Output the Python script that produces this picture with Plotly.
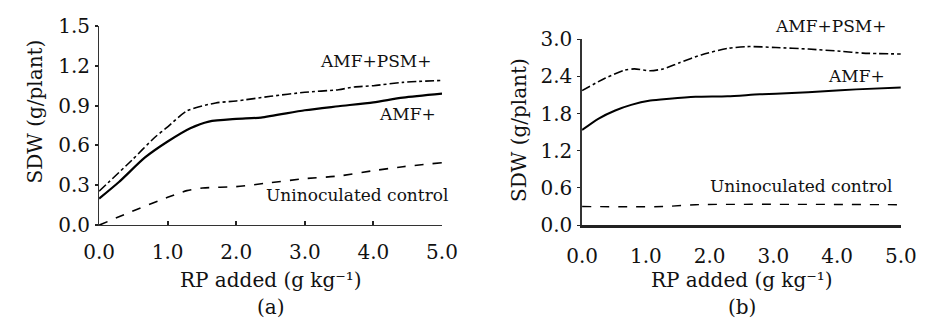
import plotly.graph_objects as go

# Panel (a)
a_x_psm = [0, 0.48, 0.81, 1.0, 1.28, 1.7, 2.0, 2.5, 3.0, 3.49, 3.72, 4.0, 4.43, 5.0]
a_y_psm = [0.256, 0.49, 0.66, 0.74, 0.86, 0.92, 0.935, 0.97, 1.0, 1.02, 1.04, 1.05, 1.075, 1.09]
a_x_amf = [0, 0.29, 0.67, 1.0, 1.33, 1.6, 2.0, 2.36, 3.0, 3.49, 4.0, 4.43, 5.0]
a_y_amf = [0.2, 0.325, 0.51, 0.63, 0.73, 0.78, 0.80, 0.81, 0.865, 0.895, 0.925, 0.96, 0.99]
a_x_ctl = [0, 0.43, 1.0, 1.28, 1.51, 2.0, 2.5, 3.0, 3.49, 4.0, 4.43, 5.0]
a_y_ctl = [0.0, 0.093, 0.21, 0.26, 0.28, 0.29, 0.32, 0.35, 0.37, 0.41, 0.44, 0.47]

# Panel (b)
b_x_psm = [0, 0.36, 0.67, 0.82, 1.07, 1.27, 1.53, 1.88, 2.28, 2.59, 3.04, 3.55, 4.05, 4.4, 5.0]
b_y_psm = [2.17, 2.37, 2.50, 2.52, 2.49, 2.52, 2.62, 2.75, 2.85, 2.88, 2.865, 2.84, 2.805, 2.775, 2.76]
b_x_amf = [0, 0.26, 0.52, 0.77, 1.07, 1.37, 1.78, 2.28, 2.79, 3.29, 3.8, 4.3, 5.0]
b_y_amf = [1.535, 1.72, 1.85, 1.94, 2.01, 2.04, 2.07, 2.08, 2.11, 2.13, 2.16, 2.19, 2.22]
b_x_ctl = [0, 1.27, 1.78, 5.0]
b_y_ctl = [0.30, 0.30, 0.33, 0.33]

x_ticks = [0, 1, 2, 3, 4, 5]
x_ticktext = ["0.0", "1.0", "2.0", "3.0", "4.0", "5.0"]
a_y_ticks = [0, 0.3, 0.6, 0.9, 1.2, 1.5]
b_y_ticks = [0, 0.6, 1.2, 1.8, 2.4, 3.0]

FONT = "DejaVu Serif"
FS = 20
FS_LBL = 17
COL = "#111"

fig = go.Figure()

def add(x, y, dash, width, xa, ya):
    fig.add_trace(go.Scatter(x=x, y=y, mode="lines", xaxis=xa, yaxis=ya,
                             line=dict(color="black", dash=dash, width=width, shape="spline", smoothing=0.7),
                             showlegend=False, hoverinfo="skip"))

add(a_x_psm, a_y_psm, "dashdot", 1.6, "x", "y")
add(a_x_amf, a_y_amf, "solid", 2.2, "x", "y")
add(a_x_ctl, a_y_ctl, "dash", 1.6, "x", "y")
add(b_x_psm, b_y_psm, "dashdot", 1.6, "x2", "y2")
add(b_x_amf, b_y_amf, "solid", 2.0, "x2", "y2")
add(b_x_ctl, b_y_ctl, "dash", 1.4, "x2", "y2")

tickfont = dict(family=FONT, size=FS, color=COL)

fig.update_layout(
    width=941, height=328,
    margin=dict(l=0, r=0, t=0, b=0),
    paper_bgcolor="white", plot_bgcolor="white",
    font=dict(family=FONT, size=FS, color=COL),
    xaxis=dict(domain=[86/941, 441/941], range=[0, 5], tickvals=x_ticks, ticktext=x_ticktext,
               showline=True, linecolor="#333", linewidth=1, ticks="inside", ticklen=4,
               tickwidth=2, tickcolor="#222", showgrid=False, zeroline=False, tickfont=tickfont,
               anchor="y", ticklabelstandoff=9),
    yaxis=dict(domain=[98/328, 313/328], range=[0, 1.5], tickvals=a_y_ticks,
               ticktext=["0.0", "0.3", "0.6", "0.9", "1.2", "1.5"],
               showline=True, linecolor="#333", linewidth=1, ticks="outside", ticklen=3,
               tickwidth=2, tickcolor="#222", showgrid=False, zeroline=False, tickfont=tickfont,
               anchor="x", ticklabelstandoff=1),
    xaxis2=dict(domain=[586/941, 916/941], range=[0, 5], tickvals=x_ticks, ticktext=x_ticktext,
                showline=True, linecolor="#222", linewidth=2.5, ticks="", showgrid=False,
                zeroline=False, tickfont=tickfont, anchor="y2", ticklabelstandoff=11),
    yaxis2=dict(domain=[98/328, 298.7/328], range=[0, 3.0], tickvals=b_y_ticks,
                ticktext=["0.0", "0.6", "1.2", "1.8", "2.4", "3.0"],
                showline=True, linecolor="#333", linewidth=1.5, ticks="outside", ticklen=3,
                tickwidth=1, tickcolor="#222", showgrid=False, zeroline=False, tickfont=tickfont,
                anchor="x2", ticklabelstandoff=1),
)

anns = [
    dict(text="AMF+PSM+", x=4.03, y=1.235, xref="x", yref="y", size=FS_LBL),
    dict(text="AMF+", x=4.5, y=0.84, xref="x", yref="y", size=FS_LBL),
    dict(text="Uninoculated control", x=3.76, y=0.23, xref="x", yref="y", size=FS_LBL),
    dict(text="AMF+PSM+", x=843/941, y=(328-15)/328, xref="paper", yref="paper", size=FS_LBL),
    dict(text="AMF+", x=4.3, y=2.41, xref="x2", yref="y2", size=FS_LBL),
    dict(text="Uninoculated control", x=3.44, y=0.63, xref="x2", yref="y2", size=FS_LBL),
    dict(text="RP added (g kg⁻¹)", x=264/941, y=(328-289)/328, xref="paper", yref="paper", size=FS),
    dict(text="RP added (g kg⁻¹)", x=752/941, y=(328-289)/328, xref="paper", yref="paper", size=FS),
    dict(text="(a)", x=264/941, y=(328-318)/328, xref="paper", yref="paper", size=FS),
    dict(text="(b)", x=752/941, y=(328-318)/328, xref="paper", yref="paper", size=FS),
    dict(text="SDW (g/plant)", x=20/941, y=(328-107)/328, xref="paper", yref="paper", textangle=-90, size=FS),
    dict(text="SDW (g/plant)", x=520/941, y=(328-127)/328, xref="paper", yref="paper", textangle=-90, size=FS),
]
for a in anns:
    s = a.pop("size")
    fig.add_annotation(showarrow=False, font=dict(family=FONT, size=s, color=COL),
                       xanchor="center", yanchor="middle", **a)

fig.write_html("out.html")
